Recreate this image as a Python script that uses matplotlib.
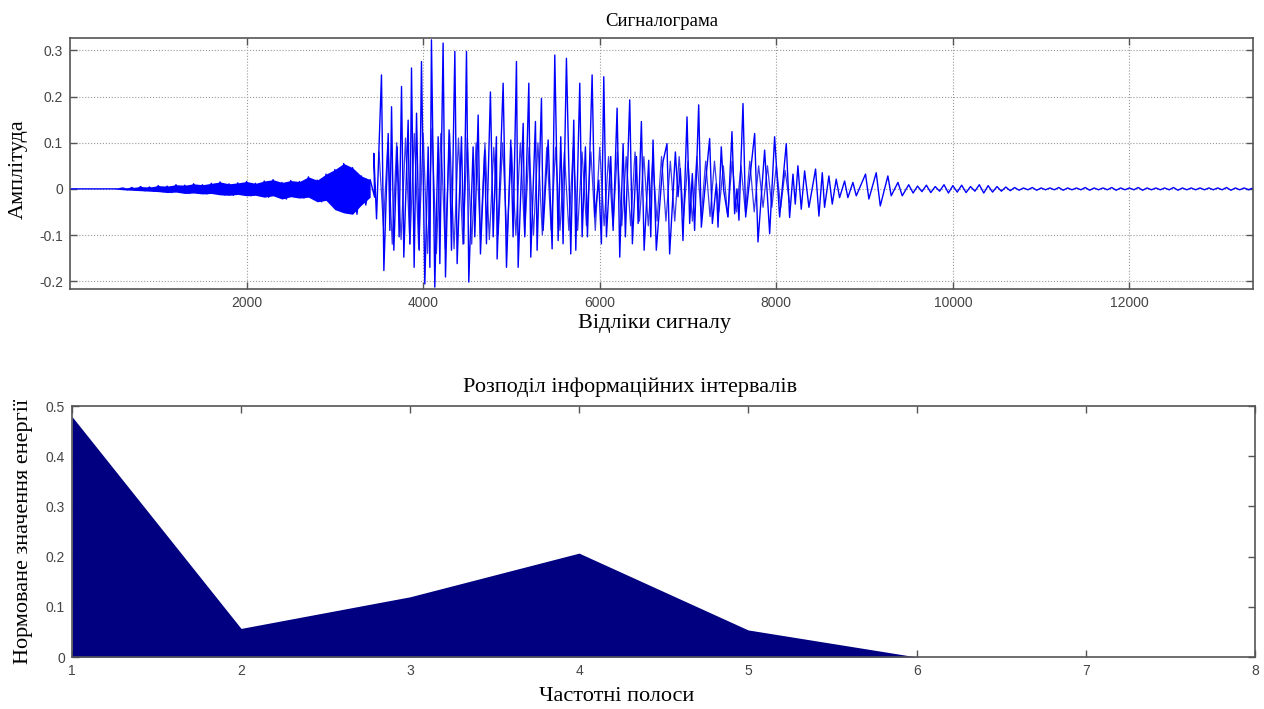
import numpy as np
import matplotlib.pyplot as plt

# ---- signal data ----
# onset: upper / lower envelope every 100 samples, 0..3400
onset_x = list(range(0, 3500, 100))
onset_hi = [0, 0, 0, 0, 0, 0, 0.002, 0.003, 0.005, 0.004,
            0.007, 0.006, 0.009, 0.008, 0.011, 0.009, 0.012, 0.015, 0.011, 0.013,
            0.016, 0.012, 0.017, 0.020, 0.014, 0.018, 0.016, 0.026, 0.019, 0.032,
            0.042, 0.055, 0.046, 0.028, 0.020]
onset_lo = [0, 0, 0, 0, 0, 0, -0.002, -0.003, -0.004, -0.005,
            -0.006, -0.008, -0.007, -0.010, -0.009, -0.011, -0.010, -0.013, -0.014, -0.012,
            -0.015, -0.014, -0.018, -0.015, -0.022, -0.017, -0.020, -0.018, -0.028, -0.025,
            -0.045, -0.052, -0.055, -0.035, -0.018]

# voiced part: extrema (sample, amplitude)
peak_t = [3441, 3472, 3528, 3555, 3604, 3623, 3642, 3668, 3706, 3728,
          3755, 3781, 3830, 3849, 3868, 3898, 3925, 3955, 3981, 4019,
          4057, 4076, 4094, 4132, 4170, 4189, 4226, 4253, 4294, 4321,
          4359, 4385, 4434, 4460, 4491, 4517, 4566, 4585, 4623, 4649,
          4698, 4717, 4762, 4793, 4830, 4838, 4906, 4944, 4993, 5019,
          5057, 5076, 5133, 5151, 5197, 5219, 5272, 5291, 5340, 5359,
          5416, 5461, 5491, 5529, 5559, 5585, 5623, 5672, 5706, 5729,
          5774, 5801, 5838, 5861, 5914, 5944, 5989, 6019, 6046, 6076,
          6125, 6152, 6197, 6227, 6265, 6291, 6340, 6370, 6416, 6435,
          6472, 6503, 6555, 6578, 6604, 6641, 6717, 6762, 6792, 6857,
          6887, 6913, 6943, 6989, 7019, 7049, 7075, 7121, 7151, 7245,
          7276, 7321, 7340, 7377, 7404, 7453, 7498, 7528, 7555, 7577,
          7623, 7653, 7755, 7793, 7868, 7925, 7981, 8038, 8113, 8151,
          8189, 8215, 8245, 8283, 8321, 8370, 8445, 8483, 8521, 8547,
          8596, 8634, 8679, 8717, 8774, 8811, 8868, 8906, 9011, 9049,
          9132, 9178, 9264, 9302, 9378, 9427]
peak_a = [0.077, -0.065, 0.247, -0.177, 0.120, -0.090, 0.178, -0.133, 0.091, -0.104,
          0.222, -0.148, 0.149, -0.119, 0.262, -0.170, 0.164, -0.133, 0.276, -0.206,
          0.091, -0.170, 0.323, -0.213, 0.113, -0.162, 0.316, -0.191, 0.128, -0.133,
          0.298, -0.162, 0.113, -0.119, 0.298, -0.202, 0.091, -0.104, 0.160, -0.141,
          0.084, -0.119, 0.210, -0.104, 0.113, -0.152, 0.229, -0.170, 0.106, -0.104,
          0.276, -0.170, 0.142, -0.104, 0.229, -0.148, 0.146, -0.133, 0.196, -0.090,
          0.106, -0.130, 0.290, -0.112, 0.113, -0.119, 0.283, -0.141, 0.149, -0.133,
          0.229, -0.104, 0.091, -0.104, 0.247, -0.061, 0.019, -0.119, 0.243, -0.104,
          0.070, -0.090, 0.175, -0.148, 0.098, -0.104, 0.193, -0.119, 0.070, -0.075,
          0.146, -0.133, 0.062, -0.104, 0.106, -0.133, 0.059, 0.098, -0.141, 0.080,
          -0.017, 0.044, -0.112, 0.156, -0.075, 0.033, -0.090, 0.182, -0.083, 0.109,
          -0.075, 0.011, -0.083, 0.091, -0.003, -0.061, 0.124, -0.054, 0.000, -0.068,
          0.185, -0.061, 0.120, -0.115, 0.084, -0.097, 0.113, -0.061, 0.098, -0.062,
          0.032, -0.033, 0.050, -0.044, 0.039, -0.040, 0.043, -0.059, 0.035, -0.040,
          0.028, -0.033, 0.021, -0.019, 0.017, -0.019, 0.014, -0.015, 0.032, -0.022,
          0.035, -0.037, 0.028, -0.015, 0.014, -0.015]

# voiced part: dense inner body, every 100 samples, 3500..8100
inner_x = list(range(3500, 8200, 100))
inner_hi = [0.08, 0.10, 0.10, 0.11, 0.12, 0.12, 0.13, 0.12, 0.12, 0.11,
            0.11, 0.10, 0.10, 0.09, 0.10, 0.09, 0.10, 0.09, 0.10, 0.09,
            0.09, 0.08, 0.09, 0.08, 0.08, 0.09, 0.07, 0.08, 0.07, 0.08,
            0.07, 0.06, 0.07, 0.06, 0.07, 0.06, 0.07, 0.06, 0.06, 0.05,
            0.06, 0.05, 0.06, 0.05, 0.05, 0.05, 0.04]
inner_lo = [-0.08, -0.12, -0.11, -0.12, -0.13, -0.14, -0.14, -0.13, -0.13, -0.12,
            -0.12, -0.11, -0.11, -0.10, -0.11, -0.10, -0.10, -0.10, -0.10, -0.09,
            -0.09, -0.09, -0.09, -0.08, -0.09, -0.08, -0.08, -0.08, -0.08, -0.07,
            -0.08, -0.07, -0.07, -0.07, -0.06, -0.07, -0.06, -0.06, -0.05, -0.06,
            -0.05, -0.05, -0.05, -0.04, -0.04, -0.04, -0.03]

# tail: envelope every 100 samples, 9500..13400
tail_x = list(range(9500, 13500, 100))
tail_env = [0.009, 0.006, 0.008, 0.005, 0.009, 0.007, 0.008, 0.005, 0.009, 0.007,
            0.005, 0.004, 0.003, 0.002, 0.003, 0.002, 0.002, 0.003, 0.002, 0.002,
            0.003, 0.002, 0.002, 0.003, 0.002, 0.002, 0.003, 0.002, 0.002, 0.002,
            0.003, 0.002, 0.002, 0.002, 0.002, 0.002, 0.003, 0.002, 0.002, 0.002]

# ---- band energies ----
bands = [1, 2, 3, 4, 5, 6, 7, 8]
energy = [0.479, 0.057, 0.12, 0.207, 0.054, 0.0, 0.0, 0.0]

sig_title = 'Сигналограма'
sig_xlabel = 'Відліки сигналу'
sig_ylabel = 'Амплітуда'
en_title = 'Розподіл інформаційних інтервалів'
en_xlabel = 'Частотні полоси'
en_ylabel = 'Нормоване значення енергії'

# main trace: onset zig-zag, voiced extrema, tail zig-zag
mx, my = [], []
for x, h, l in zip(onset_x, onset_hi, onset_lo):
    mx += [x, x + 50]
    my += [h, l]
mx += peak_t
my += peak_a
for x, e in zip(tail_x, tail_env):
    mx += [x, x + 50]
    my += [e, -e]

# inner body zig-zag of the voiced part
bx, by = [], []
for x, h, l in zip(inner_x, inner_hi, inner_lo):
    bx += [x, x + 50]
    by += [h, l]

serif = 'Liberation Serif'
sans = 'Liberation Sans'
tick_col = '#444444'
blue = '#0000ff'

fig = plt.figure(figsize=(12.64, 7.09), dpi=100)
ax1 = fig.add_axes([0.0554, 0.5924, 0.9359, 0.354])
ax2 = fig.add_axes([0.0570, 0.0733, 0.9359, 0.354])

ax1.fill_between(onset_x, onset_lo, onset_hi, color=blue, lw=0)
ax1.plot(bx, by, color='#3a3ae8', lw=0.9)
ax1.plot(mx, my, color=blue, lw=1.0)
ax1.set_xlim(0, 13400)
ax1.set_ylim(-0.217, 0.327)
ax1.set_xticks([2000, 4000, 6000, 8000, 10000, 12000])
ax1.set_yticks([-0.2, -0.1, 0, 0.1, 0.2, 0.3])
ax1.set_yticklabels(['-0.2', '-0.1', '0', '0.1', '0.2', '0.3'])
ax1.grid(True, linestyle=':', color='#999999', lw=0.8)
ax1.set_title(sig_title, family=serif, fontsize=13.5, pad=9)
ax1.set_xlabel(sig_xlabel, family=serif, fontsize=16)
ax1.set_ylabel(sig_ylabel, family=serif, fontsize=16)
ax1.xaxis.set_label_coords(0.494, -0.1)
ax1.yaxis.set_label_coords(-0.036, 0.478)

ax2.fill_between(bands, 0, energy, color='#000080', lw=0)
ax2.set_xlim(1, 8)
ax2.set_ylim(0, 0.5)
ax2.set_xticks(bands)
ax2.set_yticks([0, 0.1, 0.2, 0.3, 0.4, 0.5])
ax2.set_yticklabels(['0', '0.1', '0.2', '0.3', '0.4', '0.5'])
ax2.set_title(en_title, family=serif, fontsize=16, pad=10, x=0.472)
ax2.set_xlabel(en_xlabel, family=serif, fontsize=16)
ax2.set_ylabel(en_ylabel, family=serif, fontsize=16)
ax2.xaxis.set_label_coords(0.46, -0.12)
ax2.yaxis.set_label_coords(-0.033, 0.5)

for ax in (ax1, ax2):
    ax.tick_params(direction='in', top=True, right=True, length=5, width=1,
                   color='#555555', labelcolor=tick_col, labelsize=10, pad=5)
    for lab in ax.get_xticklabels() + ax.get_yticklabels():
        lab.set_family(sans)
    for s in ax.spines.values():
        s.set_color('#555555')
        s.set_linewidth(1.2)
    ax.set_axisbelow(True)

fig.savefig('out.png', dpi=100)
